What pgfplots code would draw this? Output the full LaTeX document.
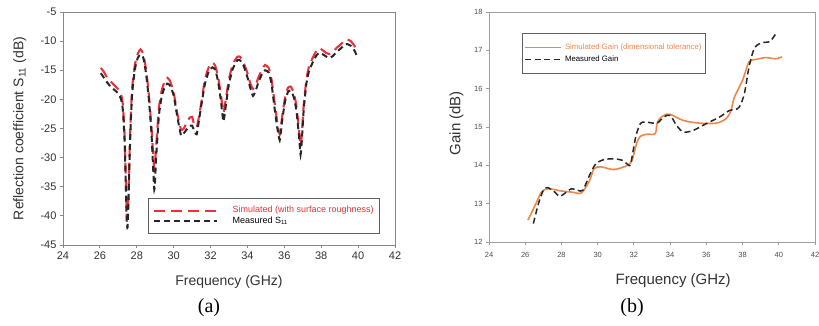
\documentclass[border=0pt]{standalone}
\usepackage{pgfplots}
\pgfplotsset{compat=1.18}
\usepackage{fontspec}
\setmainfont{Liberation Sans}
\newfontfamily\seriffont{Liberation Serif}
\definecolor{simred}{RGB}{232,50,60}
\definecolor{simorange}{RGB}{238,135,75}
\definecolor{framegray}{RGB}{135,135,135}
\definecolor{legray}{RGB}{95,95,95}
\begin{document}
\begin{tikzpicture}[x=1pt,y=1pt]
\path[use as bounding box] (0,0) rectangle (819,326);
% ---------------- (a) ----------------
\begin{axis}[at={(63pt,81pt)}, anchor=south west, scale only axis,
  width=332pt, height=233pt,
  xmin=24, xmax=42, ymin=-45, ymax=-5,
  xtick={24,26,...,42}, ytick={-45,-40,...,-5},
  axis line style={framegray, line width=0.9pt},
  tick align=outside, tick pos=left, major tick length=3pt,
  tick style={framegray, line width=0.9pt},
  ticklabel style={font=\fontsize{11}{12}\selectfont, text=black!80},
  /pgf/number format/assume math mode=true,
  xlabel={Frequency (GHz)},
  xlabel style={font=\fontsize{14}{16}\selectfont, text=black!80, at={(axis description cs:0.5,-0.159)}, anchor=center},
  ylabel={Reflection coefficient S\textsubscript{11} (dB)},
  ylabel style={font=\fontsize{14}{16}\selectfont, text=black!80, at={(axis description cs:-0.13,0.5)}, anchor=center, rotate=0},
  legend cell align=left,
  legend image code/.code={\draw[#1] (0pt,0pt) -- (63pt,0pt);},
  legend style={at={(axis description cs:0.256,0.2017)}, anchor=north west,
    draw=legray, line width=0.9pt, fill=white, inner xsep=5pt, inner ysep=7pt,
    column sep=13pt, font=\fontsize{9}{10}\selectfont,
    nodes={inner sep=1pt, text height=6.5pt, text depth=2pt}},
]
\addplot[simred, line width=2.1pt, dash pattern=on 11pt off 6pt, smooth, tension=0.3] coordinates {
(26.05,-14.6) (26.2,-15.2) (26.4,-16.3) (26.6,-17.0) (26.8,-17.6) (27.0,-18.3)
(27.15,-19.2) (27.25,-21) (27.35,-27) (27.45,-39.5) (27.5,-40.5) (27.55,-36)
(27.65,-25) (27.75,-18) (27.9,-14) (28.05,-12.2) (28.2,-11.4) (28.35,-12.2)
(28.5,-14.8) (28.65,-19) (28.8,-25) (28.95,-32) (29.05,-28) (29.2,-21.5)
(29.35,-18.5) (29.5,-17) (29.65,-16.3) (29.8,-16.8) (30.0,-18.8) (30.2,-22.5)
(30.4,-25.2) (30.55,-25.0) (30.7,-24.0) (30.85,-23.2) (31.0,-23.0) (31.1,-24.2)
(31.25,-24.8) (31.4,-22.5) (31.55,-19.5) (31.7,-16.5) (31.9,-14.5) (32.1,-13.7)
(32.25,-14.2) (32.4,-16) (32.55,-19) (32.7,-22.2) (32.85,-19.5) (33.0,-16.5)
(33.2,-14) (33.45,-12.7) (33.6,-12.7) (33.8,-13.8) (34.0,-15.5) (34.15,-17.2)
(34.3,-18.2) (34.45,-17.5) (34.6,-16.2) (34.8,-14.8) (34.95,-14.1) (35.15,-14.6)
(35.3,-16.5) (35.45,-20) (35.6,-23.5) (35.75,-26.0) (35.9,-22.5) (36.05,-19.5)
(36.2,-18.0) (36.35,-17.8) (36.5,-18.8) (36.65,-21) (36.8,-25.5) (36.88,-28)
(36.95,-26) (37.05,-21) (37.2,-16.5) (37.35,-14.2) (37.55,-12.8) (37.75,-11.6)
(37.9,-11.2) (38.05,-11.5) (38.25,-12) (38.45,-12.2) (38.65,-11.8) (38.85,-11.1)
(39.05,-10.6) (39.25,-9.9) (39.4,-9.7) (39.6,-10.0) (39.8,-10.8) (39.95,-11.8)
};
\addlegendentry{\textcolor{simred}{Simulated (with surface roughness)}}
\addplot[black!85, line width=2pt, dash pattern=on 6pt off 4pt, smooth, tension=0.3] coordinates {
(26.05,-15.5) (26.2,-16.2) (26.4,-17.1) (26.6,-17.9) (26.8,-18.4) (27.0,-19.0)
(27.15,-20.0) (27.25,-22) (27.35,-28) (27.45,-40.5) (27.5,-42) (27.55,-37.5)
(27.65,-26) (27.75,-19) (27.9,-14.8) (28.05,-12.9) (28.2,-12.3) (28.35,-12.8)
(28.5,-15.5) (28.65,-19.8) (28.8,-26) (28.95,-35.5) (29.05,-30) (29.2,-22.8)
(29.35,-19.5) (29.5,-18) (29.65,-17.3) (29.8,-17.6) (30.0,-19.3) (30.2,-23.0)
(30.4,-26.2) (30.55,-25.8) (30.7,-25.2) (30.85,-24.6) (31.0,-24.5) (31.1,-25.3)
(31.25,-26) (31.4,-23) (31.55,-20) (31.7,-17.3) (31.9,-15.2) (32.1,-14.5)
(32.25,-14.9) (32.4,-16.8) (32.55,-20) (32.7,-23.8) (32.85,-20.5) (33.0,-17.3)
(33.2,-14.8) (33.45,-13.3) (33.6,-13.3) (33.8,-14.3) (34.0,-16.2) (34.15,-18.0)
(34.3,-19.4) (34.45,-18.5) (34.6,-17.0) (34.8,-15.6) (34.95,-15.0) (35.15,-15.4)
(35.3,-17.2) (35.45,-21) (35.6,-24.5) (35.75,-27.0) (35.9,-23.2) (36.05,-20.2)
(36.2,-18.7) (36.35,-18.5) (36.5,-19.5) (36.65,-21.8) (36.8,-26.5) (36.88,-29.5)
(36.95,-27) (37.05,-21.8) (37.2,-17.2) (37.35,-15) (37.55,-13.6) (37.75,-12.4)
(37.9,-12.0) (38.05,-12.2) (38.25,-12.6) (38.45,-12.9) (38.65,-12.5) (38.85,-11.8)
(39.05,-11.3) (39.25,-10.7) (39.4,-10.5) (39.6,-10.8) (39.8,-11.6) (39.97,-12.8)
};
\addlegendentry{Measured S\textsubscript{11}}
\end{axis}
% ---------------- (b) ----------------
\begin{axis}[at={(489pt,84pt)}, anchor=south west, scale only axis,
  width=326pt, height=230pt,
  xmin=24, xmax=42, ymin=12, ymax=18,
  xtick={24,26,...,42}, ytick={12,13,...,18},
  axis line style={framegray!80, line width=0.8pt},
  tick align=outside, tick pos=left, major tick length=3pt,
  tick style={framegray!80, line width=0.8pt},
  ticklabel style={font=\fontsize{7.5}{9}\selectfont, text=black!70},
  xticklabel style={yshift=-4pt},
  /pgf/number format/assume math mode=true,
  xlabel={Frequency (GHz)},
  xlabel style={font=\fontsize{15}{17}\selectfont, text=black!80, at={(axis description cs:0.565,-0.17)}, anchor=center},
  ylabel={Gain (dB)},
  ylabel style={font=\fontsize{15}{17}\selectfont, text=black!80, at={(axis description cs:-0.10,0.517)}, anchor=center},
  legend cell align=left,
  legend image code/.code={\draw[#1, line width=1.7pt] (0pt,0pt) -- (36pt,0pt);},
  legend style={at={(axis description cs:0.101,0.9087)}, anchor=north west,
    draw=legray, line width=0.8pt, fill=white, inner xsep=2pt, inner ysep=8pt,
    column sep=1pt, font=\fontsize{7.8}{9}\selectfont,
    nodes={inner sep=2pt, text height=6pt, text depth=2pt}},
]
\addplot[simorange, line width=1.6pt, smooth, tension=0.5] coordinates {
(26.15,12.57) (26.55,12.96) (26.9,13.3) (27.27,13.39) (28.0,13.33) (28.6,13.3)
(29.1,13.28) (29.55,13.6) (29.8,13.91) (30.18,13.96) (30.9,13.89) (31.64,14.0)
(31.9,14.13) (32.15,14.57) (32.36,14.76) (32.73,14.81) (33.18,14.83) (33.3,15.13)
(33.64,15.3) (34.0,15.33) (34.73,15.17) (35.64,15.1) (36.55,15.1) (37.1,15.22)
(37.36,15.43) (37.55,15.78) (38.0,16.22) (38.36,16.7) (38.73,16.76) (39.27,16.81)
(39.82,16.78) (40.18,16.83)
};
\addlegendentry{\textcolor{simorange}{Simulated Gain (dimensional tolerance)}}
\addplot[black!85, line width=1.5pt, dash pattern=on 6pt off 3.5pt, smooth, tension=0.5] coordinates {
(26.45,12.48) (26.73,13.0) (27.0,13.35) (27.24,13.42) (27.64,13.3) (27.9,13.19)
(28.27,13.3) (28.55,13.39) (28.9,13.35) (29.18,13.35) (29.55,13.74) (29.9,14.04)
(30.36,14.15) (30.9,14.17) (31.36,14.13) (31.64,14.03) (31.82,14.04) (32.1,14.74)
(32.36,15.09) (32.64,15.13) (33.27,15.1) (33.64,15.26) (34.0,15.3) (34.36,15.04)
(34.73,14.87) (35.27,14.91) (36.0,15.09) (36.73,15.26) (37.27,15.43) (37.55,15.45)
(37.82,15.52) (38.1,15.87) (38.36,16.57) (38.64,17.04) (39.0,17.19) (39.45,17.22)
(39.64,17.3) (39.9,17.48)
};
\addlegendentry{Measured Gain}
\end{axis}
\node[font=\seriffont\fontsize{20}{22}\selectfont] at (209,18) {(a)};
\node[font=\seriffont\fontsize{20}{22}\selectfont] at (632,18) {(b)};
\end{tikzpicture}
\end{document}
